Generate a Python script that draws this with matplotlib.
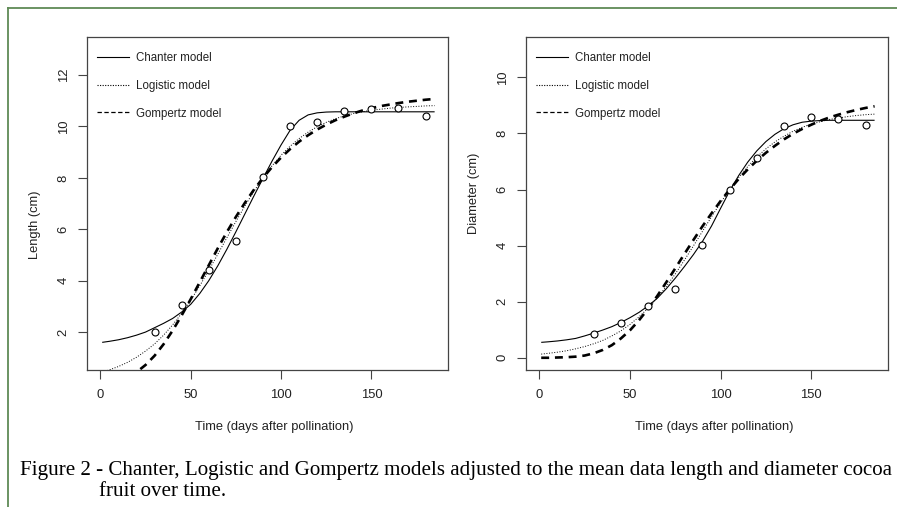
import matplotlib
matplotlib.use("Agg")
import matplotlib.pyplot as plt
from matplotlib.lines import Line2D

plt.rcParams['font.family'] = ['Liberation Sans', 'DejaVu Sans']

# observed means
time_obs = [30, 45, 60, 75, 90, 105, 120, 135, 150, 165, 180]
length_obs = [2.0, 3.05, 4.4, 5.55, 8.05, 10.0, 10.17, 10.6, 10.68, 10.7, 10.4]
diam_obs = [0.86, 1.25, 1.84, 2.45, 4.02, 6.0, 7.12, 8.25, 8.57, 8.5, 8.3]

# fitted curves
time_fit = [1, 5, 10, 15, 20, 25, 30, 35, 40, 45, 50, 55, 60, 65, 70, 75, 80, 85, 90,
            95, 100, 105, 110, 115, 120, 125, 130, 135, 140, 145, 150, 155, 160, 165,
            170, 175, 180, 185]

len_chanter = [1.60, 1.64, 1.70, 1.78, 1.88, 2.00, 2.17, 2.34, 2.53, 2.78, 3.08, 3.50,
               4.00, 4.58, 5.22, 5.90, 6.60, 7.30, 7.98, 8.65, 9.28, 9.85, 10.24, 10.45,
               10.53, 10.56, 10.57, 10.57, 10.57, 10.57, 10.57, 10.57, 10.57, 10.57,
               10.57, 10.57, 10.57, 10.57]
len_logistic = [0.44, 0.53, 0.66, 0.82, 1.02, 1.26, 1.54, 1.88, 2.28, 2.73, 3.24, 3.80,
                4.40, 5.03, 5.67, 6.30, 6.91, 7.48, 8.00, 8.47, 8.88, 9.23, 9.53, 9.78,
                9.99, 10.16, 10.30, 10.41, 10.50, 10.57, 10.63, 10.67, 10.71, 10.74,
                10.76, 10.78, 10.80, 10.81]
len_gompertz = [0.03, 0.06, 0.13, 0.25, 0.44, 0.72, 1.08, 1.53, 2.06, 2.65, 3.28, 3.94,
                4.60, 5.26, 5.89, 6.48, 7.03, 7.54, 8.00, 8.42, 8.79, 9.12, 9.41, 9.66,
                9.88, 10.07, 10.24, 10.38, 10.51, 10.62, 10.71, 10.79, 10.85, 10.91,
                10.96, 11.00, 11.04, 11.07]

dia_chanter = [0.55, 0.57, 0.60, 0.64, 0.69, 0.78, 0.88, 0.99, 1.11, 1.26, 1.43, 1.62,
               1.85, 2.12, 2.46, 2.84, 3.25, 3.68, 4.15, 4.70, 5.33, 5.95, 6.50, 6.98,
               7.38, 7.71, 7.97, 8.17, 8.31, 8.40, 8.44, 8.46, 8.47, 8.47, 8.47, 8.47,
               8.47, 8.47]
dia_logistic = [0.13, 0.16, 0.20, 0.25, 0.32, 0.40, 0.50, 0.62, 0.78, 0.96, 1.19, 1.46,
                1.77, 2.13, 2.54, 2.99, 3.48, 3.99, 4.51, 5.03, 5.53, 6.00, 6.43, 6.82,
                7.16, 7.45, 7.70, 7.90, 8.08, 8.22, 8.33, 8.42, 8.50, 8.55, 8.60, 8.64,
                8.67, 8.69]
dia_gompertz = [0.00, 0.00, 0.01, 0.02, 0.04, 0.08, 0.16, 0.28, 0.45, 0.69, 0.98, 1.34,
                1.75, 2.20, 2.69, 3.19, 3.70, 4.20, 4.69, 5.15, 5.59, 6.00, 6.38, 6.72,
                7.03, 7.31, 7.56, 7.79, 7.99, 8.16, 8.31, 8.45, 8.57, 8.67, 8.76, 8.84,
                8.91, 8.97]

x_ticks = [0, 50, 100, 150]
len_ticks = [2, 4, 6, 8, 10, 12]
dia_ticks = [0, 2, 4, 6, 8, 10]
model_names = ['Chanter model', 'Logistic model', 'Gompertz model']
caption_1 = ('Figure 2 - Chanter, Logistic and Gompertz models adjusted to the mean data '
             'length and diameter cocoa')
caption_2 = 'fruit over time.'

ink = '#222222'
fig = plt.figure(figsize=(8.97, 5.07), dpi=100)
fig.patch.set_facecolor('white')

# green frame (top and left edge only)
green = '#5f8a56'
fig.add_artist(Line2D([8 / 897, 1], [1 - 8 / 507, 1 - 8 / 507], color=green, lw=1.3))
fig.add_artist(Line2D([8 / 897, 8 / 897], [0, 1 - 8 / 507], color=green, lw=1.3))

panels = [
    dict(rect=[87 / 897, 0.270, 361 / 897, 0.657], obs=length_obs,
         curves=(len_chanter, len_logistic, len_gompertz), ylim=(0.52, 13.48),
         yticks=len_ticks, ylabel='Length (cm)', ylab_y=0.435),
    dict(rect=[526 / 897, 0.270, 362 / 897, 0.657], obs=diam_obs,
         curves=(dia_chanter, dia_logistic, dia_gompertz), ylim=(-0.44, 11.44),
         yticks=dia_ticks, ylabel='Diameter (cm)', ylab_y=0.53),
]

for p in panels:
    ax = fig.add_axes(p['rect'])
    ch, lo, go = p['curves']
    ax.plot(time_fit, ch, color='black', lw=0.8, solid_capstyle='butt')
    ax.plot(time_fit, lo, color='black', lw=0.7, linestyle=(0, (1, 1.7)))
    ax.plot(time_fit, go, color='black', lw=1.9, linestyle=(0, (3.0, 2.2)))
    ax.plot(time_obs, p['obs'], 'o', ms=5, mfc='white', mec='black', mew=0.8)

    ax.set_xlim(-7.4, 192.4)
    ax.set_ylim(*p['ylim'])
    ax.set_xticks(x_ticks)
    ax.set_yticks(p['yticks'])
    ax.tick_params(axis='both', direction='out', length=6.5, width=0.8, color='#444444',
                   labelsize=9.4, labelcolor=ink)
    ax.tick_params(axis='x', pad=7)
    ax.tick_params(axis='y', pad=6, labelrotation=90)
    for lbl in ax.get_yticklabels():
        lbl.set_va('center')
    for s in ax.spines.values():
        s.set_color('#444444')
        s.set_linewidth(0.9)

    ax.set_xlabel('Time (days after pollination)', fontsize=9.3, color=ink)
    ax.xaxis.set_label_coords(0.52, -0.153)
    ax.set_ylabel(p['ylabel'], fontsize=9.3, color=ink)
    ax.yaxis.set_label_coords(-0.127, p['ylab_y'])

    handles = [Line2D([], [], color='black', lw=0.8),
               Line2D([], [], color='black', lw=0.8, linestyle=(0, (1, 1.3))),
               Line2D([], [], color='black', lw=0.9, linestyle=(0, (3.5, 2.0)))]
    leg = ax.legend(handles, model_names, loc='upper left', frameon=False,
                    bbox_to_anchor=(0.005, 0.978), fontsize=8.3, handlelength=2.8,
                    handletextpad=0.6, labelspacing=1.35, borderaxespad=0.3)
    for t in leg.get_texts():
        t.set_color(ink)

serif = ['Liberation Serif', 'DejaVu Serif']
fig.text(20 / 897, 1 - 470 / 507, caption_1, family=serif, fontsize=15.1,
         color='black', va='center')
fig.text(99 / 897, 1 - 491 / 507, caption_2, family=serif, fontsize=15.1,
         color='black', va='center')

fig.savefig('out.png', dpi=100, facecolor='white')
